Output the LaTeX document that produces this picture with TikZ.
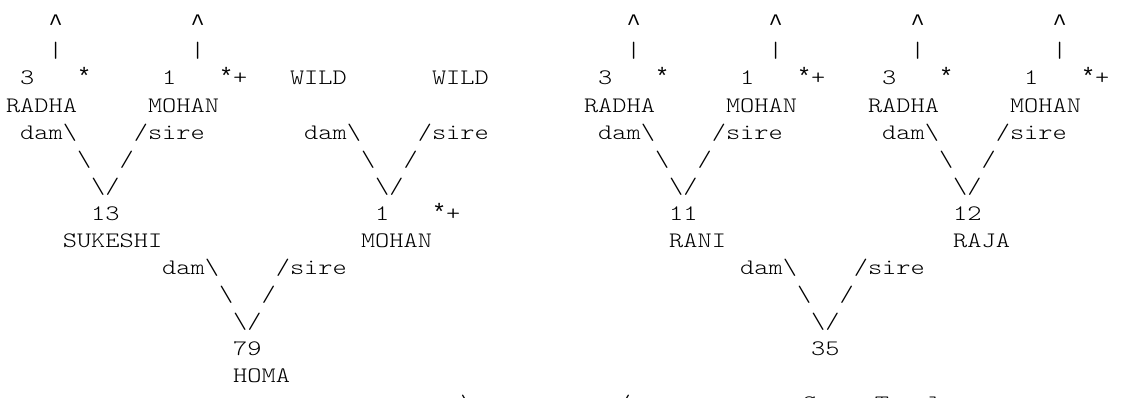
\documentclass[tikz,border=0pt]{standalone}
\usepackage{fontspec}
\newfontfamily\asciifont[FakeStretch=1.224]{lmmonolt10-regular.otf}
\newfontfamily\symfont{Liberation Mono}
\newcommand\atok[4]{\node[tx] (#1) at (#2,#3) {#4};}
\newcommand\stok[4]{\node[sx] (#1) at (#2,#3) {#4};}
\newcommand\bsl{\textbackslash}
\begin{document}
\begin{tikzpicture}[x=1pt,y=1pt,
  tx/.style={anchor=base west,inner sep=0pt,outer sep=0pt,
    font=\asciifont\fontsize{22.1}{27}\selectfont,text=black},
  sx/.style={anchor=base west,inner sep=0pt,outer sep=0pt,
    font=\symfont\fontsize{23.67}{27}\selectfont,text=black}]
\useasboundingbox (0,0) rectangle (1121,-398);
\clip (0,0) rectangle (1121,-398);
% ---------------- left block ----------------
\begin{scope}[shift={(6pt,-30.8pt)},x=14.2pt,y=-27.09pt]
\stok{La1}{3}{0}{\textasciicircum}
\stok{La2}{13}{0}{\textasciicircum}
\atok{Lb1}{3}{1}{\textbar}
\atok{Lb2}{13}{1}{\textbar}
\atok{Lc1}{1}{2}{3}
\stok{Lc2}{5}{2}{*}
\atok{Lc3}{11}{2}{1}
\stok{Lc4}{15}{2}{*}
\atok{Lc4p}{16}{2}{+}
\atok{Lc5}{20}{2}{WILD}
\atok{Lc6}{30}{2}{WILD}
\atok{Ld1}{0}{3}{RADHA}
\atok{Ld2}{10}{3}{MOHAN}
\atok{Le1}{1}{4}{dam\bsl}
\atok{Le2}{9}{4}{/sire}
\atok{Le3}{21}{4}{dam\bsl}
\atok{Le4}{29}{4}{/sire}
\atok{Lf1}{5}{5}{\bsl}
\atok{Lf2}{8}{5}{/}
\atok{Lf3}{25}{5}{\bsl}
\atok{Lf4}{28}{5}{/}
\atok{Lg1}{6}{6}{\bsl/}
\atok{Lg2}{26}{6}{\bsl/}
\atok{Lh1}{6}{7}{13}
\atok{Lh2}{26}{7}{1}
\stok{Lh3}{30}{7}{*}
\atok{Lh3p}{31}{7}{+}
\atok{Li1}{4}{8}{SUKESHI}
\atok{Li2}{25}{8}{MOHAN}
\atok{Lj1}{11}{9}{dam\bsl}
\atok{Lj2}{19}{9}{/sire}
\atok{Lk1}{15}{10}{\bsl}
\atok{Lk2}{18}{10}{/}
\atok{Ll1}{16}{11}{\bsl/}
\atok{Lm1}{16}{12}{79}
\atok{Ln1}{16}{13}{HOMA}
\atok{Lo1}{32}{14}{\bsl}
\atok{Lo2}{43}{14}{/}
\end{scope}
% ---------------- right block ----------------
\begin{scope}[shift={(584pt,-30.8pt)},x=14.2pt,y=-27.09pt]
\stok{Ra1}{3}{0}{\textasciicircum}
\stok{Ra2}{13}{0}{\textasciicircum}
\stok{Ra3}{23}{0}{\textasciicircum}
\stok{Ra4}{33}{0}{\textasciicircum}
\atok{Rb1}{3}{1}{\textbar}
\atok{Rb2}{13}{1}{\textbar}
\atok{Rb3}{23}{1}{\textbar}
\atok{Rb4}{33}{1}{\textbar}
\atok{Rc1}{1}{2}{3}
\stok{Rc2}{5}{2}{*}
\atok{Rc3}{11}{2}{1}
\stok{Rc4}{15}{2}{*}
\atok{Rc4p}{16}{2}{+}
\atok{Rc5}{21}{2}{3}
\stok{Rc6}{25}{2}{*}
\atok{Rc7}{31}{2}{1}
\stok{Rc8}{35}{2}{*}
\atok{Rc8p}{36}{2}{+}
\atok{Rd1}{0}{3}{RADHA}
\atok{Rd2}{10}{3}{MOHAN}
\atok{Rd3}{20}{3}{RADHA}
\atok{Rd4}{30}{3}{MOHAN}
\atok{Re1}{1}{4}{dam\bsl}
\atok{Re2}{9}{4}{/sire}
\atok{Re3}{21}{4}{dam\bsl}
\atok{Re4}{29}{4}{/sire}
\atok{Rf1}{5}{5}{\bsl}
\atok{Rf2}{8}{5}{/}
\atok{Rf3}{25}{5}{\bsl}
\atok{Rf4}{28}{5}{/}
\atok{Rg1}{6}{6}{\bsl/}
\atok{Rg2}{26}{6}{\bsl/}
\atok{Rh1}{6}{7}{11}
\atok{Rh2}{26}{7}{12}
\atok{Ri1}{6}{8}{RANI}
\atok{Ri2}{26}{8}{RAJA}
\atok{Rj1}{11}{9}{dam\bsl}
\atok{Rj2}{19}{9}{/sire}
\atok{Rk1}{15}{10}{\bsl}
\atok{Rk2}{18}{10}{/}
\atok{Rl1}{16}{11}{\bsl/}
\atok{Rm1}{16}{12}{35}
\end{scope}
% cut-off bottom row (only tops visible)
\node[tx,anchor=base] (Bo1) at (810,-410.1) {S};
\node[tx,anchor=base] (Bo2) at (882,-410.1) {T};
\node[tx,anchor=base] (Bo3) at (935,-410.1) {l};
\end{tikzpicture}
\end{document}
